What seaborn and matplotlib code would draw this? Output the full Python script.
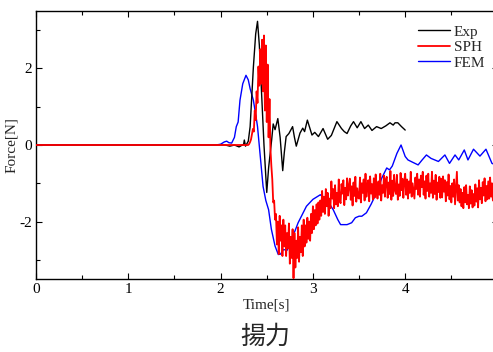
import numpy as np
import pandas as pd
import matplotlib
matplotlib.use("Agg")
import matplotlib.pyplot as plt
from matplotlib.ticker import MultipleLocator
import seaborn as sns

# ---------------- data ----------------
exp_t = [0.0, 2.05, 2.10, 2.15, 2.20, 2.25, 2.257, 2.27, 2.30, 2.32, 2.355, 2.38, 2.40, 2.42,
         2.445, 2.47, 2.50, 2.52, 2.553, 2.57, 2.59, 2.62, 2.645, 2.673, 2.69, 2.71, 2.74,
         2.78, 2.80, 2.82, 2.86, 2.89, 2.91, 2.94, 2.99, 3.02, 3.06, 3.11, 3.16, 3.20, 3.26,
         3.31, 3.34, 3.37, 3.41, 3.44, 3.48, 3.52, 3.56, 3.60, 3.64, 3.69, 3.74, 3.79, 3.835,
         3.87, 3.89, 3.92, 3.96, 4.00]
exp_f = [0.0, 0.0, -0.03, 0.0, -0.05, 0.02, 0.13, -0.03, 0.10, 0.48, 2.03, 2.90, 3.23, 2.60,
         1.30, 0.00, -1.24, -0.60, 0.13, 0.55, 0.40, 0.69, 0.20, -0.67, -0.20, 0.22, 0.30,
         0.48, 0.20, -0.03, 0.31, 0.44, 0.35, 0.65, 0.26, 0.33, 0.22, 0.43, 0.15, 0.25, 0.61,
         0.43, 0.35, 0.30, 0.50, 0.61, 0.45, 0.61, 0.43, 0.52, 0.38, 0.48, 0.43, 0.50, 0.58,
         0.52, 0.58, 0.58, 0.48, 0.39]

fem_t = [0.0, 1.95, 2.00, 2.04, 2.066, 2.09, 2.12, 2.15, 2.17, 2.19, 2.21, 2.24, 2.275, 2.30,
         2.32, 2.355, 2.38, 2.40, 2.43, 2.46, 2.49, 2.52, 2.55, 2.59, 2.625, 2.65, 2.68, 2.72,
         2.77, 2.84, 2.93, 3.00, 3.08, 3.15, 3.22, 3.27, 3.30, 3.37, 3.42, 3.46, 3.50, 3.53,
         3.58, 3.63, 3.69, 3.745, 3.80, 3.83, 3.86, 3.91, 3.955, 4.00, 4.03, 4.08, 4.14, 4.18,
         4.23, 4.28, 4.36, 4.43, 4.48, 4.54, 4.58, 4.64, 4.68, 4.74, 4.81, 4.875, 4.94, 4.96]
fem_f = [0.0, 0.0, 0.02, 0.08, 0.10, 0.06, 0.05, 0.20, 0.48, 0.60, 1.17, 1.60, 1.82, 1.70,
         1.47, 1.17, 0.80, 0.48, -0.30, -1.08, -1.45, -1.69, -2.20, -2.64, -2.86, -2.85, -2.73,
         -2.75, -2.47, -2.03, -1.60, -1.42, -1.30, -1.43, -1.69, -1.95, -2.08, -2.08, -2.03,
         -1.90, -1.86, -1.86, -1.77, -1.55, -1.25, -0.87, -0.60, -0.65, -0.55, -0.22, 0.00,
         -0.30, -0.39, -0.45, -0.52, -0.40, -0.26, -0.35, -0.43, -0.26, -0.48, -0.26, -0.39,
         -0.13, -0.39, -0.11, -0.29, -0.11, -0.48, -0.50]

# SPH sampled every 0.01 s from 2.30 s to 4.95 s (preceded by a flat zero segment)
sph_start, sph_step = 2.30, 0.01
sph_f = [
    0.00, 0.03, 0.08, 0.15, 0.28, 0.42, 0.35, 0.90, 0.65, 1.40,
    1.10, 2.05, 1.55, 2.50, 1.60, 2.75, 1.40, 2.86, 0.90, 2.60,
    0.60, 2.10, 0.20, 1.20, -0.10, -0.55, -0.90, -1.50, -1.45, -1.95,
    -1.80, -2.60, -2.00, -2.85, -1.85, -2.50, -2.10, -2.90, -1.95, -2.65,
    -2.10, -2.90, -2.30, -2.70, -2.05, -3.10, -2.40, -2.95, -2.20, -3.48,
    -2.30, -3.20, -2.50, -2.95, -2.15, -3.05, -2.40, -2.80, -2.10, -2.90,
    -1.95, -2.65, -2.10, -2.55, -1.90, -2.45, -2.00, -2.50, -1.80, -2.30,
    -1.60, -2.20, -1.70, -2.10, -1.55, -2.05, -1.50, -1.95, -1.45, -1.85,
    -1.20, -1.75, -1.35, -1.80, -1.15, -1.60, -1.25, -1.85, -1.40, -1.65,
    -0.95, -1.40, -1.15, -1.65, -1.05, -1.55, -1.25, -1.60, -0.90, -1.45,
    -1.52, -1.02, -1.27, -0.92, -1.57, -1.12, -1.42, -0.87, -1.32, -1.07,
    -0.88, -1.43, -1.08, -1.58, -0.98, -1.33, -0.83, -1.48, -1.13, -1.38,
    -1.40, -0.85, -1.50, -1.00, -1.25, -0.90, -1.45, -0.75, -1.35, -1.05,
    -0.92, -1.47, -0.82, -1.27, -1.02, -1.42, -0.87, -1.37, -0.77, -1.17,
    -1.40, -0.95, -1.30, -0.75, -1.45, -1.05, -1.25, -0.80, -1.35, -0.90,
    -0.83, -1.38, -0.98, -1.28, -0.68, -1.43, -0.93, -1.33, -0.78, -1.18,
    -1.28, -0.78, -1.43, -1.03, -1.33, -0.73, -1.18, -0.88, -1.38, -0.93,
    -0.75, -1.30, -0.90, -1.40, -0.95, -1.25, -0.70, -1.35, -1.00, -1.20,
    -1.40, -0.85, -1.15, -0.75, -1.30, -0.90, -1.35, -0.80, -1.10, -0.70,
    -1.30, -0.95, -1.40, -0.80, -1.20, -0.75, -1.35, -1.00, -1.25, -0.70,
    -1.38, -0.93, -1.28, -0.78, -1.43, -0.98, -1.23, -0.83, -1.38, -0.88,
    -1.37, -0.82, -1.22, -0.92, -1.47, -0.97, -1.32, -0.77, -1.42, -1.07,
    -1.50, -1.00, -1.35, -0.90, -1.55, -1.10, -0.70, -1.45, -1.05, -1.50,
    -1.15, -1.60, -1.25, -1.65, -1.10, -1.50, -1.05, -1.55, -1.30, -1.65,
    -1.08, -1.53, -1.18, -1.63, -1.28, -1.58, -1.03, -1.48, -1.13, -1.63,
    -0.92, -1.42, -1.12, -1.52, -0.97, -1.32, -0.87, -1.47, -1.07, -1.42,
    -0.95, -1.40, -0.85, -1.35, -1.00, -1.45,
]
sph_t = [0.0] + [round(sph_start + i * sph_step, 2) for i in range(len(sph_f))]
sph_f = [0.0] + sph_f

labels = ["Exp", "SPH", "FEM"]
colors = {"Exp": "black", "SPH": "red", "FEM": "blue"}
xtick_vals = [0, 1, 2, 3, 4, 5]
xtick_labels = ["0", "1", "2", "3", "4", ""]
ytick_vals = [-2, 0, 2]
ytick_labels = ["-2", "0", "2"]

# ---------------- style ----------------
sns.set_style("ticks")
plt.rcParams["font.family"] = ["Liberation Serif", "DejaVu Serif"]
plt.rcParams["axes.unicode_minus"] = False

W, H = 493, 352
fig = plt.figure(figsize=(W / 100, H / 100), dpi=100)
ax = fig.add_axes([36 / W, (H - 279) / H, 461.5 / W, 268 / H])

df_exp = pd.DataFrame({"t": exp_t, "F": exp_f})
df_sph = pd.DataFrame({"t": sph_t, "F": sph_f})
df_fem = pd.DataFrame({"t": fem_t, "F": fem_f})

sns.lineplot(data=df_fem, x="t", y="F", ax=ax, color=colors["FEM"], lw=1.0,
             estimator=None, sort=False, label="FEM", zorder=2)
sns.lineplot(data=df_exp, x="t", y="F", ax=ax, color=colors["Exp"], lw=1.0,
             estimator=None, sort=False, label="Exp", zorder=3)
sns.lineplot(data=df_sph, x="t", y="F", ax=ax, color=colors["SPH"], lw=1.3,
             estimator=None, sort=False, label="SPH", zorder=4)

ax.set_xlim(0, 5)
ax.set_ylim(-3.5, 3.5)
ax.set_xticks(xtick_vals, xtick_labels)
ax.xaxis.set_minor_locator(MultipleLocator(0.5))
ax.set_yticks(ytick_vals, ytick_labels)
ax.yaxis.set_minor_locator(MultipleLocator(1))
ax.tick_params(which="both", direction="in", top=True, right=True, colors="black",
               labelsize=11, pad=3)
ax.tick_params(which="major", length=4, width=0.8)
ax.tick_params(which="minor", length=3, width=0.8)
for s in ax.spines.values():
    s.set_color("black")
    s.set_linewidth(1.0)

ax.set_xlabel("Time[s]", fontsize=11, labelpad=2)
ax.set_ylabel("Force[N]", fontsize=11, labelpad=1)

# legend in requested order
handles, labs = ax.get_legend_handles_labels()
hmap = dict(zip(labs, handles))
ax.legend([hmap[l] for l in labels], labels, loc="upper left",
          bbox_to_anchor=(418 / W, 1 - 25 / H), bbox_transform=fig.transFigure,
          frameon=False, fontsize=11, handlelength=2.1, handletextpad=0.25,
          labelspacing=0.12, borderpad=0, borderaxespad=0)

fig.text(265 / W, 1 - 337 / H, "揚力", ha="center", va="center", fontsize=18,
         family=["Noto Sans CJK JP", "DejaVu Sans"])

fig.savefig("out.png", dpi=100)
